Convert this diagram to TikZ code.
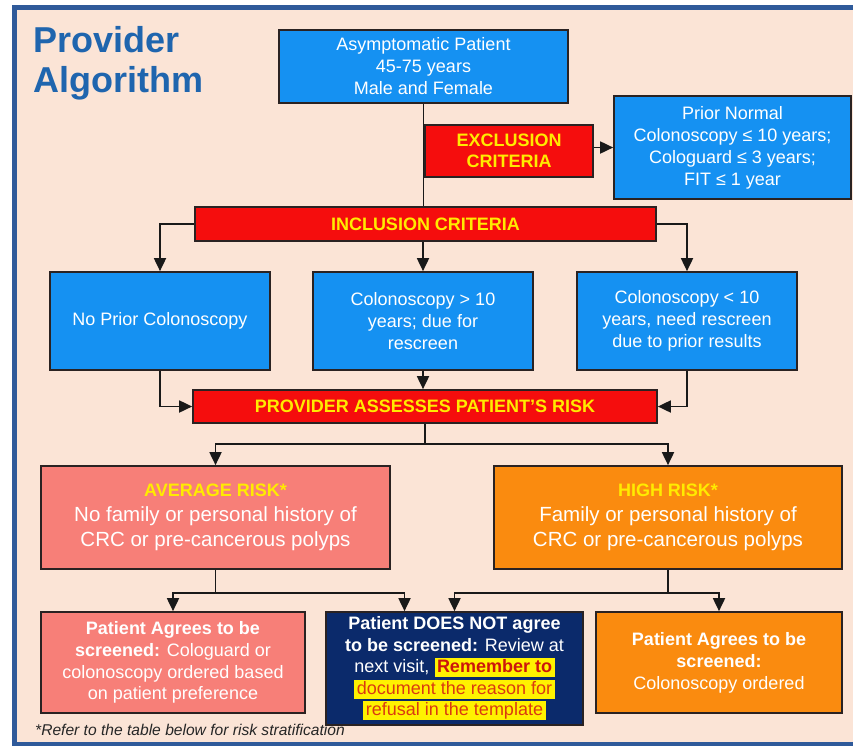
\documentclass[tikz,border=0pt]{standalone}
\usepackage{fontspec}
\setmainfont{Liberation Sans}
\usetikzlibrary{arrows.meta,calc}

\definecolor{peach}{HTML}{FBE4D6}
\definecolor{framebl}{HTML}{2F5A9A}
\definecolor{skyb}{HTML}{1591F2}
\definecolor{alarm}{HTML}{F50D0D}
\definecolor{gold}{HTML}{FFEB00}
\definecolor{salmon}{HTML}{F77F78}
\definecolor{amber}{HTML}{FA8B0F}
\definecolor{navy}{HTML}{0B2A6B}
\definecolor{titleblue}{HTML}{1F65AE}
\definecolor{hlyellow}{HTML}{FFF200}
\definecolor{remred}{HTML}{CC160C}
\definecolor{docred}{HTML}{DA3A10}
\definecolor{edge}{HTML}{2A2222}

% yellow marker behind a piece of text
\newcommand{\hlbox}[1]{{\fboxsep=0pt\colorbox{hlyellow}{\kern2.5pt\rule[-4.5pt]{0pt}{19pt}#1\kern2.5pt}}}

\tikzset{
  box/.style={draw=edge, line width=1.7pt, inner sep=2pt, align=center,
              text=white, font=\fontsize{18}{22}\selectfont},
  bluebox/.style={box, fill=skyb},
  redbar/.style={box, fill=alarm, text=gold, font=\fontsize{18}{21}\selectfont\bfseries},
  link/.style={draw=black!90, line width=1.8pt},
  arr/.style={link, -{Triangle[width=12pt,length=13pt]}},
}

\begin{document}
\begin{tikzpicture}[x=1pt,y=-1pt]
\useasboundingbox (0,0) rectangle (853,747);
\fill[white] (0,0) rectangle (853,747);
\fill[peach] (14.5,7.5) rectangle (880,744);
\draw[framebl, line width=4.5pt] (14.5,7.5) rectangle (880,744);

% heading
\node[anchor=north west, inner sep=0, align=left, text=titleblue,
      font=\fontsize{36}{40}\selectfont\bfseries] (title) at (33,26) {Provider\\Algorithm};

% top of the algorithm
\node[bluebox, minimum width=289, minimum height=73] (asym) at (423.5,66.5)
  {Asymptomatic Patient\\45-75 years\\Male and Female};
\node[redbar, minimum width=168, minimum height=52] (excl) at (509,151)
  {EXCLUSION\\CRITERIA};
\node[bluebox, minimum width=237, minimum height=103] (prior) at (732.5,147.5)
  {Prior Normal\\Colonoscopy ≤ 10 years;\\Cologuard ≤ 3 years;\\FIT ≤ 1 year};
\node[redbar, minimum width=461, minimum height=34] (incl) at (425.5,224)
  {INCLUSION CRITERIA};

% inclusion branches
\node[bluebox, minimum width=220, minimum height=98] (nop) at (160,321)
  {No Prior Colonoscopy};
\node[bluebox, minimum width=220, minimum height=98] (mid) at (423,321)
  {Colonoscopy > 10\\years; due for\\rescreen};
\node[bluebox, minimum width=220, minimum height=98] (rgt) at (687,321)
  {Colonoscopy < 10\\years, need rescreen\\due to prior results};

\node[redbar, minimum width=464, minimum height=33] (prov) at (425,406.5)
  {PROVIDER ASSESSES PATIENT'S RISK};

% risk levels
\node[box, fill=salmon, minimum width=349, minimum height=103,
      font=\fontsize{20.5}{25}\selectfont] (avg) at (215.5,517.5)
  {{\fontsize{18}{25}\selectfont\bfseries\color{gold}AVERAGE RISK*}\\
   No family or personal history of\\CRC or pre-cancerous polyps};
\node[box, fill=amber, minimum width=348, minimum height=103,
      font=\fontsize{20.5}{25}\selectfont] (high) at (668,517.5)
  {{\fontsize{18}{25}\selectfont\bfseries\color{gold}HIGH RISK*}\\
   Family or personal history of\\CRC or pre-cancerous polyps};

% outcomes
\node[box, fill=salmon, minimum width=264, minimum height=101,
      font=\fontsize{18}{21.7}\selectfont] (agreeL) at (173,662.5)
  {{\bfseries Patient Agrees to be}\\
   {\bfseries screened:} Cologuard or\\
   colonoscopy ordered based\\
   on patient preference};
\node[box, fill=navy, minimum width=257, minimum height=113,
      font=\fontsize{18}{21.5}\selectfont] (refuse) at (454.5,668.5)
  {{\bfseries Patient DOES NOT agree}\\
   {\bfseries to be screened:} Review at\\
   next visit, \hlbox{\bfseries\color{remred}Remember to}\\
   \hlbox{\color{docred}document the reason for}\\
   \hlbox{\color{docred}refusal in the template}};
\node[box, fill=amber, minimum width=246, minimum height=101,
      font=\fontsize{18}{22}\selectfont] (agreeR) at (719,662.5)
  {{\bfseries Patient Agrees to be}\\
   {\bfseries screened:}\\
   Colonoscopy ordered};

\node[anchor=base west, inner sep=0, text=black!85,
      font=\fontsize{15.6}{18}\selectfont\itshape] (note) at (35,735)
  {*Refer to the table below for risk stratification};

% connectors
\draw[link] (asym.south) -- (asym.south |- incl.north);
\draw[arr] (excl.east |- prior.west) -- (prior.west);
\draw[arr] (incl.west) -| (nop.north);
\draw[arr] (mid.north |- incl.south) -- (mid.north);
\draw[arr] (incl.east) -| (rgt.north);

\draw[arr] (nop.south) |- (prov.west);
\draw[arr] (mid.south) -- (mid.south |- prov.north);
\draw[arr] (rgt.south) |- (prov.east);

\coordinate (j1) at ($(prov.south)+(0,20)$);
\draw[link] (prov.south) -- (j1);
\draw[arr] (j1) -| (avg.north);
\draw[arr] (j1) -| (high.north);

\coordinate (j2) at ($(avg.south)+(0,23)$);
\coordinate (j3) at ($(high.south)+(0,23)$);
\coordinate (refuseL) at ($(refuse.north)+(-50,0)$);
\draw[link] (avg.south) -- (j2);
\draw[arr] (j2) -| (agreeL.north);
\draw[arr] (j2) -| (refuseL);
\draw[link] (high.south) -- (j3);
\draw[arr] (j3) -| (refuse.north);
\draw[arr] (j3) -| (agreeR.north);
\end{tikzpicture}
\end{document}
